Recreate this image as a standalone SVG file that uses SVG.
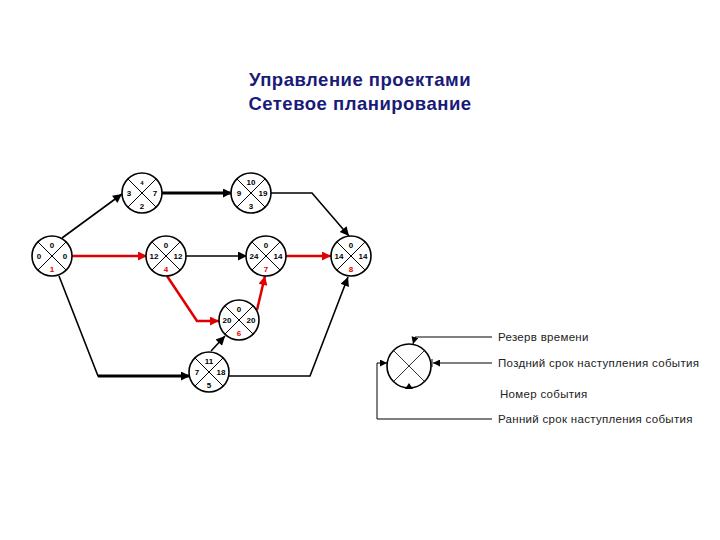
<svg xmlns="http://www.w3.org/2000/svg" width="720" height="540" viewBox="0 0 720 540">
<style>
.title{font-family:"Liberation Sans",Arial,sans-serif;font-size:18.5px;font-weight:bold;fill:#1a1a78;text-anchor:middle;letter-spacing:0.5px}
.ev circle{fill:#fff;stroke:#000;stroke-width:1.6}
.ev line{stroke:#000;stroke-width:1}
.n{font-family:"Liberation Sans",Arial,sans-serif;font-size:8px;font-weight:bold;fill:#000;text-anchor:middle}
.r{fill:#e00000}
.blk{fill:none;stroke:#000;stroke-width:1.6}
.thk{fill:none;stroke:#000;stroke-width:3}
.red{fill:none;stroke:#e00000;stroke-width:2.5}
.leg{font-family:"Liberation Sans",Arial,sans-serif;font-size:11.5px;fill:#222;letter-spacing:0.3px}
.lg{fill:none;stroke:#000;stroke-width:1}
</style>
<defs>
<marker id="ab" viewBox="0 0 10 10" refX="10" refY="5" markerWidth="11" markerHeight="9" markerUnits="userSpaceOnUse" orient="auto"><path d="M0,0 L10,5 L0,10 z" fill="#000"/></marker>
<marker id="ar" viewBox="0 0 10 10" refX="10" refY="5" markerWidth="11" markerHeight="9" markerUnits="userSpaceOnUse" orient="auto"><path d="M0,0 L10,5 L0,10 z" fill="#e00000"/></marker>
<marker id="as" viewBox="0 0 10 10" refX="10" refY="5" markerWidth="8" markerHeight="7" markerUnits="userSpaceOnUse" orient="auto"><path d="M0,0 L10,5 L0,10 z" fill="#000"/></marker>
</defs>
<rect width="720" height="540" fill="#fff"/>
<text class="title" x="360" y="86">Управление проектами</text>
<text class="title" x="360" y="110">Сетевое планирование</text>

<g id="connectors">
<line class="blk" x1="62" y1="238" x2="122" y2="194" marker-end="url(#ab)"/>
<line class="thk" x1="162" y1="193" x2="232" y2="193" marker-end="url(#ab)"/>
<polyline class="blk" points="271,193 312,193 349,236" marker-end="url(#ab)"/>
<line class="red" x1="72" y1="256" x2="147" y2="256" marker-end="url(#ar)"/>
<line class="blk" x1="186" y1="256" x2="247" y2="256" marker-end="url(#ab)"/>
<line class="red" x1="286" y1="256" x2="331" y2="256" marker-end="url(#ar)"/>
<polyline class="red" points="167,276 197,321 219,321" marker-end="url(#ar)"/>
<line class="red" x1="257" y1="310" x2="265" y2="276" marker-end="url(#ar)"/>
<polyline class="blk" points="59,276 98,376 140,376" />
<line class="thk" x1="98" y1="376" x2="190" y2="376" marker-end="url(#ab)"/>
<line class="blk" x1="211" y1="351" x2="225" y2="336" marker-end="url(#ab)"/>
<polyline class="blk" points="229,376 310,376 348,277" marker-end="url(#ab)"/>
</g>

<g id="n1" class="ev"><circle cx="52" cy="256" r="20"/><line x1="38" y1="242" x2="66" y2="270"/><line x1="66" y1="242" x2="38" y2="270"/>
<text class="n" x="52" y="248">0</text><text class="n" x="39" y="259">0</text><text class="n" x="65" y="259">0</text><text class="n r" x="52" y="272">1</text></g>

<g id="n2" class="ev"><circle cx="142" cy="193" r="20"/><line x1="128" y1="179" x2="156" y2="207"/><line x1="156" y1="179" x2="128" y2="207"/>
<text class="n" x="142" y="185" style="font-size:6px">4</text><text class="n" x="129" y="196">3</text><text class="n" x="155" y="196">7</text><text class="n" x="142" y="209">2</text></g>

<g id="n3" class="ev"><circle cx="251" cy="193" r="20"/><line x1="237" y1="179" x2="265" y2="207"/><line x1="265" y1="179" x2="237" y2="207"/>
<text class="n" x="251" y="185">10</text><text class="n" x="239" y="196">9</text><text class="n" x="263" y="196">19</text><text class="n" x="251" y="209">3</text></g>

<g id="n4" class="ev"><circle cx="166" cy="256" r="20"/><line x1="152" y1="242" x2="180" y2="270"/><line x1="180" y1="242" x2="152" y2="270"/>
<text class="n" x="166" y="248">0</text><text class="n" x="154" y="259">12</text><text class="n" x="178" y="259">12</text><text class="n r" x="166" y="272">4</text></g>

<g id="n7" class="ev"><circle cx="266" cy="256" r="20"/><line x1="252" y1="242" x2="280" y2="270"/><line x1="280" y1="242" x2="252" y2="270"/>
<text class="n" x="266" y="248">0</text><text class="n" x="254" y="259">24</text><text class="n" x="278" y="259">14</text><text class="n r" x="266" y="272">7</text></g>

<g id="n8" class="ev"><circle cx="351" cy="256" r="20"/><line x1="337" y1="242" x2="365" y2="270"/><line x1="365" y1="242" x2="337" y2="270"/>
<text class="n" x="351" y="248">0</text><text class="n" x="339" y="259">14</text><text class="n" x="363" y="259">14</text><text class="n r" x="351" y="272">8</text></g>

<g id="n6" class="ev"><circle cx="239" cy="320" r="20"/><line x1="225" y1="306" x2="253" y2="334"/><line x1="253" y1="306" x2="225" y2="334"/>
<text class="n" x="239" y="312">0</text><text class="n" x="227" y="323">20</text><text class="n" x="251" y="323">20</text><text class="n r" x="239" y="336">6</text></g>

<g id="n5" class="ev"><circle cx="209" cy="372" r="20"/><line x1="195" y1="358" x2="223" y2="386"/><line x1="223" y1="358" x2="195" y2="386"/>
<text class="n" x="209" y="364">11</text><text class="n" x="197" y="375">7</text><text class="n" x="221" y="375">18</text><text class="n" x="209" y="388">5</text></g>

<g id="legend">
<g class="ev"><circle cx="409" cy="366" r="22"/><line x1="394" y1="351" x2="424" y2="381" style="stroke-width:0.8"/><line x1="424" y1="351" x2="394" y2="381" style="stroke-width:0.8"/></g>
<polyline class="lg" points="492,337 415,337 413,344" marker-end="url(#as)"/>
<line class="lg" x1="492" y1="363" x2="433" y2="363" marker-end="url(#as)"/>
<line class="lg" x1="432" y1="359" x2="432" y2="367"/>
<path d="M405,389 L409,383 L413,389 z" fill="#000"/>
<polyline class="lg" points="492,419 377,419 377,363 387,363" marker-end="url(#as)"/>
<text class="leg" x="498" y="341">Резерв времени</text>
<text class="leg" x="498" y="367">Поздний срок наступления события</text>
<text class="leg" x="500" y="398">Номер события</text>
<text class="leg" x="498" y="423">Ранний срок наступления события</text>
</g>
</svg>
